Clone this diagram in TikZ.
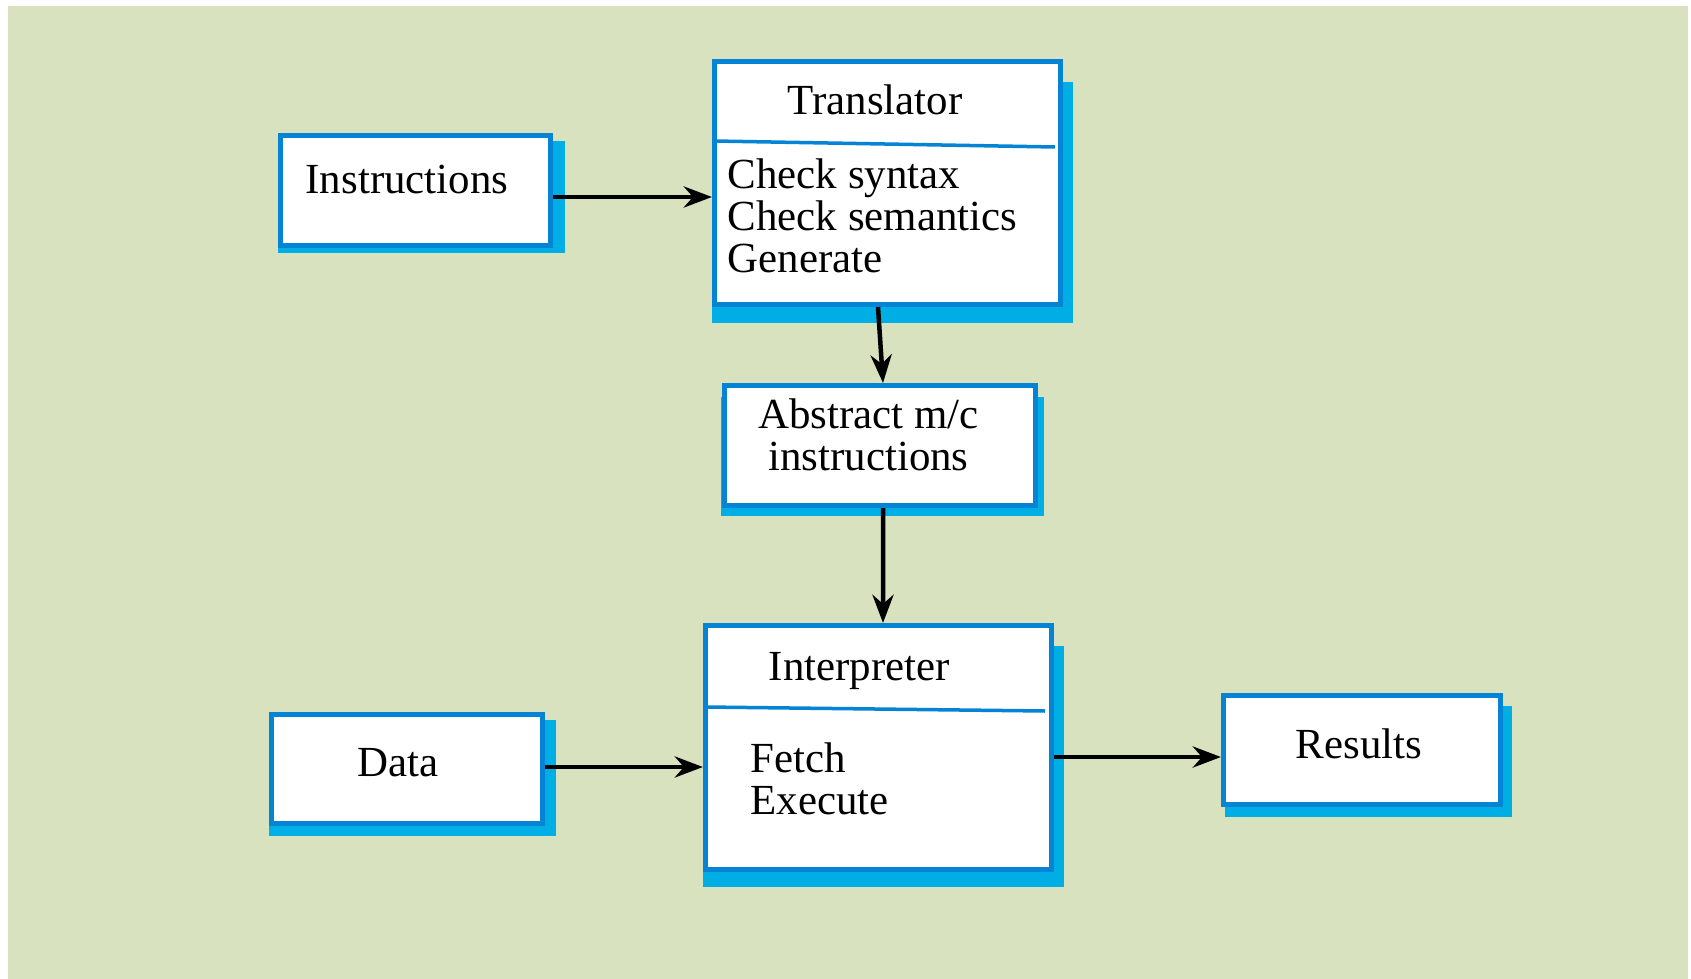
\documentclass[tikz,border=0pt]{standalone}
\usepackage{fontspec}
\setmainfont{Liberation Serif}
\usepackage{tikz}
\usetikzlibrary{arrows.meta}
\definecolor{bggreen}{RGB}{216,226,190}
\definecolor{rimblue}{RGB}{5,132,214}
\definecolor{dropblue}{RGB}{0,174,230}

\begin{document}
\begin{tikzpicture}[x=0.01cm,y=-0.01cm,>={Stealth[length=8pt,width=6pt]},
    box/.style={draw=rimblue, line width=0.05cm, fill=white, inner sep=0pt},
    txt/.style={inner sep=0pt, anchor=base west, align=left, font=\fontsize{12.2}{11.9}\selectfont},
    divider/.style={draw=rimblue, line width=0.035cm},
    link/.style={->, line width=0.045cm}]
    \useasboundingbox (0,0) rectangle (1691,979);
    \fill[bggreen] (8,6) rectangle (1688,979);

    \fill[dropblue] (278,141) rectangle (565,253);
    \fill[dropblue] (712,82) rectangle (1073,323);
    \fill[dropblue] (721,397) rectangle (1044,516);
    \fill[dropblue] (703,646) rectangle (1064,887);
    \fill[dropblue] (269,720) rectangle (556,836);
    \fill[dropblue] (1225,706) rectangle (1512,817);

    \node[box, minimum width=2.70cm, minimum height=1.10cm] (instr) at (415.5,190.5) {};
    \node[box, minimum width=3.46cm, minimum height=2.43cm] (trans) at (887.5,183) {};
    \node[box, minimum width=3.11cm, minimum height=1.20cm] (abs) at (880,445.5) {};
    \node[box, minimum width=3.46cm, minimum height=2.44cm] (interp) at (878.5,747.5) {};
    \node[box, minimum width=2.71cm, minimum height=1.09cm] (data) at (407,769) {};
    \node[box, minimum width=2.77cm, minimum height=1.09cm] (res) at (1362,750) {};

    \draw[divider] (714,141) -- (1055,147);
    \draw[divider] (705,707) -- (1045,711);

    \node[txt] (instrtext) at (305,194) {Instructions};
    \node[txt] (transtitle) at (787,115) {Translator};
    \node[txt] (transsteps) at (727,272) {Check syntax\\Check semantics\\Generate};
    \node[txt, anchor=base, align=center] (abstext) at (868.5,470) {Abstract m/c\\instructions};
    \node[txt] (interptitle) at (768,680) {Interpreter};
    \node[txt] (interpsteps) at (750,814) {Fetch\\Execute};
    \node[txt] (datatext) at (357,776) {Data};
    \node[txt] (restext) at (1295,758) {Results};

    \draw[link] ([yshift=-0.065cm]instr.east) -- ([yshift=-0.065cm]instr.east -| trans.west);
    \draw[link] ([xshift=-0.095cm]trans.south) -- ([xshift=0.03cm]abs.north);
    \draw[link] ([xshift=0.03cm]abs.south) -- ([xshift=0.045cm]interp.north);
    \draw[link] ([yshift=0.02cm]data.east) -- ([yshift=0.02cm]data.east -| interp.west);
    \draw[link] ([yshift=-0.07cm]res.west -| interp.east) -- ([yshift=-0.07cm]res.west);
\end{tikzpicture}
\end{document}
